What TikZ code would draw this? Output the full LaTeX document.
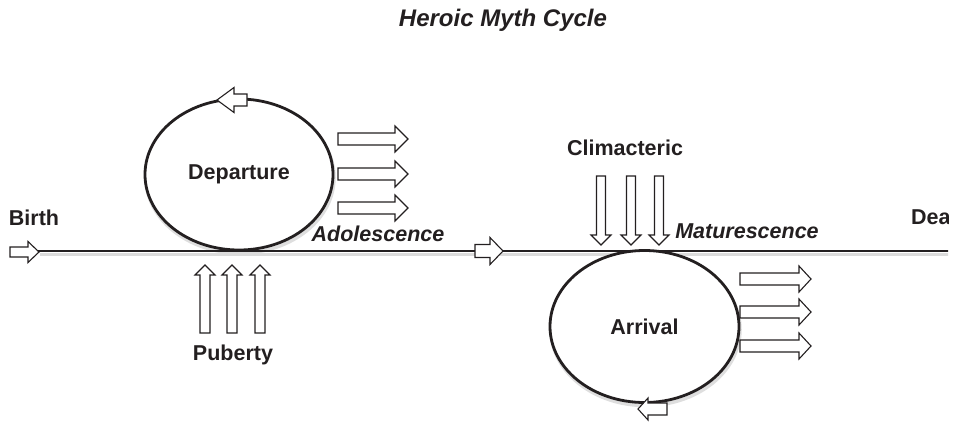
\documentclass[tikz,border=0pt]{standalone}
\usepackage{fontspec}
\setmainfont{Liberation Sans}
\usetikzlibrary{shapes.geometric}

\definecolor{ink}{HTML}{231F20}

\tikzset{
  % hollow block arrow: tail at the origin, pointing along +x
  % args: length / head length / shaft half-width / head half-width
  pics/barrow/.style args={#1/#2/#3/#4}{code={
    \draw[blockline] (0,-#3) -- ({#1-#2},-#3) -- ({#1-#2},-#4) -- (#1,0)
      -- ({#1-#2},#4) -- ({#1-#2},#3) -- (0,#3) -- cycle;}},
  blockline/.style={draw=ink, fill=white, line width=1.1pt, line join=miter},
  cycleloop/.style={ellipse, draw=ink, line width=2.8pt, inner sep=0pt,
    font=\bfseries\fontsize{21.5}{24}\selectfont, text=ink},
  loopshade/.style={ellipse, draw=black!13, line width=3.5pt, inner sep=0pt},
  lbl/.style={font=\bfseries\fontsize{21.5}{24}\selectfont, text=ink, inner sep=0pt},
  phase/.style={font=\bfseries\itshape\fontsize{21.5}{24}\selectfont, text=ink, inner sep=0pt},
  lifeline/.style={draw=ink, line width=2.8pt},
  lineshade/.style={draw=black!14, line width=3.5pt},
}

\begin{document}
\begin{tikzpicture}[x=1pt, y=-1pt]
  \useasboundingbox (0,0) rectangle (957,421);
  \begin{scope}
  % the chart is cropped on its right side
  \clip (0,0) rectangle (948,421);

  % title
  \node[font=\bfseries\itshape\fontsize{24}{28}\selectfont, text=ink, inner sep=0pt]
    (title) at (503,20) {Heroic Myth Cycle};

  % soft shadows under the loops and the life line
  \node[loopshade, minimum width=188pt, minimum height=151pt]
    (depS) at (240,177.5) {};
  \node[loopshade, minimum width=189pt, minimum height=152pt]
    (arrS) at (645.5,329.5) {};
  \coordinate (startS) at (40,254.5);
  \coordinate (endS) at (962,254.5);
  \draw[lineshade] (startS) -- (endS);

  % life line from birth onward
  \coordinate (start) at (38,251);
  \coordinate (end) at (962,251);
  \draw[lifeline] (start) -- (end);

  % birth
  \node[lbl] (birth) at (34,218) {Birth};
  \pic at (10,252) {barrow=29/11/5/10.5};

  % departure loop
  \node[cycleloop, fill=white, minimum width=188pt, minimum height=151pt]
    (dep) at (239,174.5) {Departure};
  \pic[rotate=180] at (247,100) {barrow=30/17/6/12.5};
  \pic at (338,139) {barrow=70/13/6/13};
  \pic at (338,174) {barrow=70/13/6/13};
  \pic at (338,208) {barrow=70/13/6/13};

  % puberty
  \pic[rotate=90] at (205,333) {barrow=68/10/5/10};
  \pic[rotate=90] at (232,333) {barrow=68/10/5/10};
  \pic[rotate=90] at (260,333) {barrow=68/10/5/10};
  \node[lbl] (puberty) at (233,355) {Puberty};

  % adolescence
  \node[phase] (adol) at (378,234) {Adolescence};
  \pic at (475,251) {barrow=28/13/6.5/13.5};

  % climacteric
  \node[lbl] (clim) at (625,148) {Climacteric};
  \pic[rotate=-90] at (601,176) {barrow=69/10/4.5/10};
  \pic[rotate=-90] at (631,176) {barrow=69/10/4.5/10};
  \pic[rotate=-90] at (659,176) {barrow=69/10/4.5/10};

  % maturescence
  \node[phase] (mat) at (747,231) {Maturescence};

  % death, running past the cropped edge
  \node[lbl, anchor=west] (death) at (911,217) {Death};

  % arrival loop
  \node[cycleloop, fill=white, minimum width=189pt, minimum height=152pt]
    (arr) at (644.5,326.5) {Arrival};
  \draw[lifeline] (arr.north west |- start) -- (arr.north east |- start);
  \pic at (740,279) {barrow=71/12/6/13};
  \pic at (740,312) {barrow=71/12/6/13};
  \pic at (740,346) {barrow=71/12/6/13};
  \pic[rotate=180] at (667,409) {barrow=29/10/6/11};
  \end{scope}
\end{tikzpicture}
\end{document}
